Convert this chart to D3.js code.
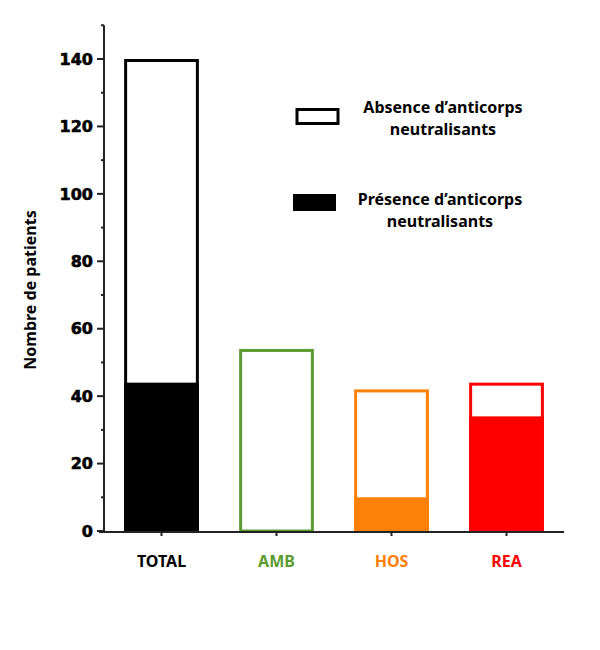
<!DOCTYPE html>
<html>
<head>
<meta charset="utf-8">
<script src="https://cdn.jsdelivr.net/npm/d3@7"></script>
<style>
  body { margin: 0; background: #fff; }
  svg { display: block; }
</style>
</head>
<body>
<div id="chart"></div>
<script>
// data
const categories = ["TOTAL", "AMB", "HOS", "REA"];
const totalPatients = [140, 54, 42, 44];      // whole bar (absence + presence)
const withAntibodies = [44, 0, 10, 34];       // filled part
const majorTicks = [0, 20, 40, 60, 80, 100, 120, 140];
const minorTicks = [10, 30, 50, 70, 90, 110, 130, 150];
const legendLabels = [
  ["Absence d’anticorps", "neutralisants"],
  ["Présence d’anticorps", "neutralisants"]
];

const colors = ["#000000", "#5b9b30", "#fd8008", "#fe0000"];

const width = 600, height = 650;
const svg = d3.select("#chart").append("svg")
  .attr("width", width)
  .attr("height", height);

const x = d3.scaleBand()
  .domain(categories)
  .range([104, 564])
  .paddingInner(0.35)
  .paddingOuter(0.175);

const y = d3.scaleLinear()
  .domain([0, 150])
  .range([531, 25.3]);

// bars
const bars = svg.append("g").attr("class", "bars");
categories.forEach((c, i) => {
  const g = bars.append("g");
  // filled part (presence)
  if (withAntibodies[i] > 0) {
    g.append("rect")
      .attr("x", x(c))
      .attr("y", y(withAntibodies[i]))
      .attr("width", x.bandwidth())
      .attr("height", y(0) - y(withAntibodies[i]))
      .attr("fill", colors[i]);
  }
  // outline of whole bar
  g.append("rect")
    .attr("x", x(c) + 1.5)
    .attr("y", y(totalPatients[i]) + 1.5)
    .attr("width", x.bandwidth() - 3)
    .attr("height", y(0) - y(totalPatients[i]) - 1.5)
    .attr("fill", "none")
    .attr("stroke", colors[i])
    .attr("stroke-width", 3);
});

// y axis
const yAxis = svg.append("g").attr("transform", "translate(104,0)");
yAxis.append("line")
  .attr("x1", 0).attr("x2", 0)
  .attr("y1", y(150)).attr("y2", y(0) + 1)
  .attr("stroke", "#222").attr("stroke-width", 2);
yAxis.selectAll(".major").data(majorTicks).enter().append("line")
  .attr("x1", -7).attr("x2", 0)
  .attr("y1", d => y(d)).attr("y2", d => y(d))
  .attr("stroke", "#222").attr("stroke-width", 2);
yAxis.selectAll(".minor").data(minorTicks).enter().append("line")
  .attr("x1", -3).attr("x2", 0)
  .attr("y1", d => y(d)).attr("y2", d => y(d))
  .attr("stroke", "#222").attr("stroke-width", 2);
yAxis.selectAll(".lbl").data(majorTicks).enter().append("text")
  .attr("x", -11)
  .attr("y", d => y(d))
  .attr("dy", "0.36em")
  .attr("text-anchor", "end")
  .style("font-family", "DejaVu Sans")
  .style("font-weight", "bold")
  .style("font-size", "16px")
  .style("stroke", "#000")
  .style("stroke-width", "0.6px")
  .attr("fill", "#000")
  .text(d => d);

// x axis
svg.append("line")
  .attr("x1", 99).attr("x2", 564)
  .attr("y1", y(0) + 1).attr("y2", y(0) + 1)
  .attr("stroke", "#222").attr("stroke-width", 2);
svg.selectAll(".xtick").data(categories).enter().append("line")
  .attr("x1", d => x(d) + x.bandwidth() / 2)
  .attr("x2", d => x(d) + x.bandwidth() / 2)
  .attr("y1", y(0) + 1).attr("y2", y(0) + 5)
  .attr("stroke", "#222").attr("stroke-width", 2);
svg.selectAll(".xlbl").data(categories).enter().append("text")
  .attr("x", d => x(d) + x.bandwidth() / 2)
  .attr("y", 567)
  .attr("text-anchor", "middle")
  .style("font-family", "Noto Sans")
  .style("font-weight", "bold")
  .style("font-size", "16px")
  .attr("fill", (d, i) => colors[i])
  .text(d => d);

// y title
svg.append("text")
  .attr("transform", "translate(36,290) rotate(-90)")
  .attr("text-anchor", "middle")
  .style("font-family", "Noto Sans")
  .style("font-weight", "bold")
  .style("font-size", "16px")
  .text("Nombre de patients");

// legend
const legend = svg.append("g").attr("class", "legend");
legend.append("rect")
  .attr("x", 297).attr("y", 109.5)
  .attr("width", 41).attr("height", 14)
  .attr("fill", "#fff").attr("stroke", "#000").attr("stroke-width", 3);
legend.append("rect")
  .attr("x", 293).attr("y", 194)
  .attr("width", 43).attr("height", 17)
  .attr("fill", "#000");

const legendY = [113, 205];
const legendX = [443, 440];
legendLabels.forEach((lines, i) => {
  lines.forEach((t, j) => {
    legend.append("text")
      .attr("x", legendX[i])
      .attr("y", legendY[i] + j * 22)
      .attr("text-anchor", "middle")
      .style("font-family", "Noto Sans")
      .style("font-weight", "bold")
      .style("font-size", "16px")
      .text(t);
  });
});
</script>
</body>
</html>
